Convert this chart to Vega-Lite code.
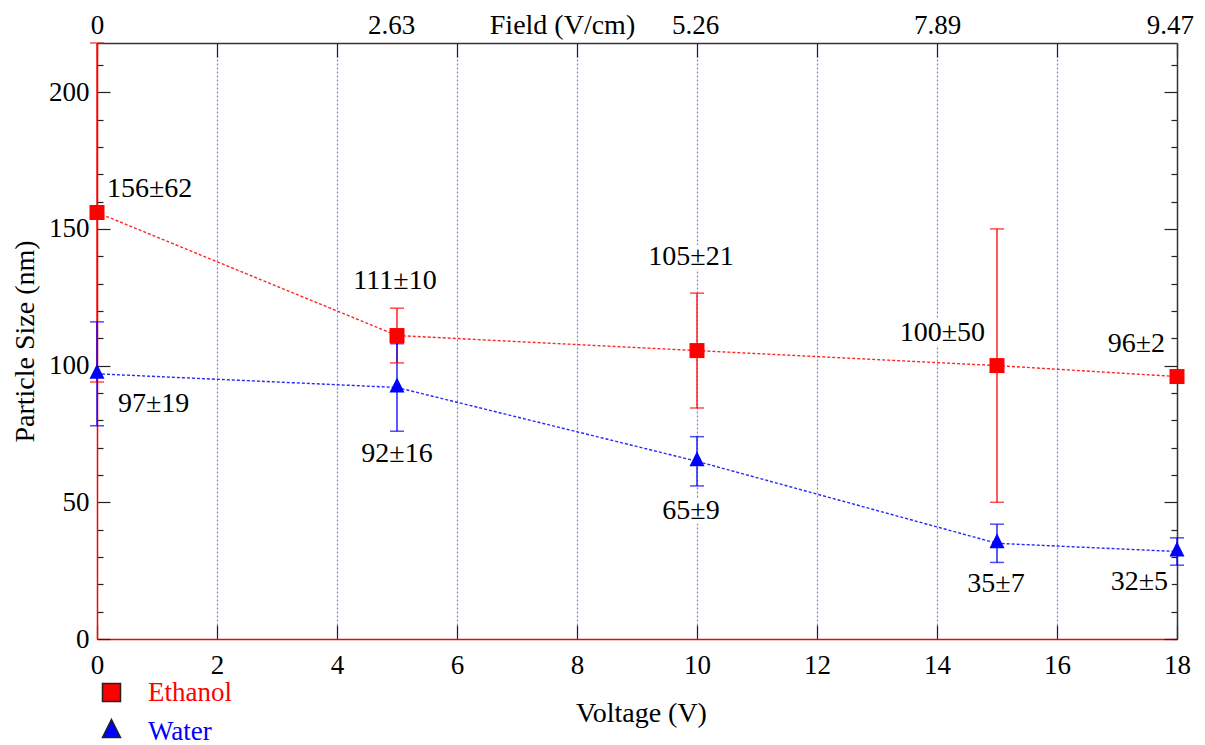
{
  "$schema": "https://vega.github.io/schema/vega-lite/v6.json",
  "width": 1080,
  "height": 596,
  "autosize": {"type": "none"},
  "padding": {"left": 97, "top": 43, "right": 28, "bottom": 106},
  "background": "white",
  "config": {
    "view": {"stroke": null},
    "font": "Liberation Serif",
    "text": {"font": "Liberation Serif"},
    "axis": {"labelFont": "Liberation Serif", "titleFont": "Liberation Serif", "labelColor": "#000", "titleColor": "#000", "titleFontWeight": "normal", "labelFlush": false, "labelOverlap": false, "grid": false, "tickColor": "#222", "tickWidth": 1.2},
    "legend": {"labelFont": "Liberation Serif"}
  },
  "data": {"values": [
    {"solvent": "Ethanol", "voltage": 0, "size": 156, "low": 94, "high": 218, "label": "156±62"},
    {"solvent": "Ethanol", "voltage": 5, "size": 111, "low": 101, "high": 121, "label": "111±10"},
    {"solvent": "Ethanol", "voltage": 10, "size": 105.5, "low": 84.5, "high": 126.5, "label": "105±21"},
    {"solvent": "Ethanol", "voltage": 15, "size": 100, "low": 50, "high": 150, "label": "100±50"},
    {"solvent": "Ethanol", "voltage": 18, "size": 96, "low": 94, "high": 98, "label": "96±2"},
    {"solvent": "Water", "voltage": 0, "size": 97, "low": 78, "high": 116, "label": "97±19"},
    {"solvent": "Water", "voltage": 5, "size": 92, "low": 76, "high": 108, "label": "92±16"},
    {"solvent": "Water", "voltage": 10, "size": 65, "low": 56, "high": 74, "label": "65±9"},
    {"solvent": "Water", "voltage": 15, "size": 35, "low": 28, "high": 42, "label": "35±7"},
    {"solvent": "Water", "voltage": 18, "size": 32, "low": 27, "high": 37, "label": "32±5"}
  ]},
  "encoding": {
    "x": {"field": "voltage", "type": "quantitative", "scale": {"domain": [0, 18], "nice": false, "zero": false}, "axis": null},
    "y": {"field": "size", "type": "quantitative", "scale": {"domain": [0, 218], "nice": false}, "axis": null}
  },
  "layer": [
    {
      "mark": {"type": "line", "strokeDash": [3, 2], "strokeWidth": 1.4, "opacity": 0.85},
      "encoding": {
        "x": {"field": "voltage", "type": "quantitative", "scale": {"domain": [0, 18], "nice": false, "zero": false},
              "axis": {"orient": "bottom", "values": [2, 4, 6, 8, 10, 12, 14, 16], "grid": true, "gridColor": "#7a7aff", "gridDash": [2, 2], "gridWidth": 1.2, "ticks": false, "labels": false, "domain": false, "title": null}},
        "y": {"field": "size", "type": "quantitative", "scale": {"domain": [0, 218], "nice": false},
              "axis": {"orient": "right", "values": [0, 10, 20, 30, 40, 60, 70, 80, 90, 110, 120, 130, 140, 160, 170, 180, 190, 210], "tickSize": -6, "labels": false, "domain": false, "title": null}},
        "color": {"field": "solvent", "type": "nominal", "scale": {"domain": ["Ethanol", "Water"], "range": ["#ff0000", "#0000ff"]}, "legend": null}
      }
    },
    {
      "mark": {"type": "rule", "strokeWidth": 1.3},
      "encoding": {
        "x": {"field": "voltage", "type": "quantitative", "scale": {"domain": [0, 18], "nice": false, "zero": false},
              "axis": {"orient": "bottom", "values": [0, 2, 4, 6, 8, 10, 12, 14, 16, 18], "tickSize": -14, "labels": false, "domain": false, "title": null}},
        "y": {"field": "low", "type": "quantitative", "scale": {"domain": [0, 218], "nice": false},
              "axis": {"orient": "left", "values": [0, 50, 100, 150, 200], "tickSize": -13, "labels": false, "domain": false, "title": null}},
        "y2": {"field": "high"},
        "color": {"field": "solvent", "type": "nominal", "scale": {"domain": ["Ethanol", "Water"], "range": ["#ff0000", "#0000ff"]}, "legend": null}
      }
    },
    {
      "mark": {"type": "tick", "orient": "horizontal", "size": 14, "thickness": 1.5},
      "encoding": {
        "x": {"field": "voltage", "type": "quantitative", "scale": {"domain": [0, 18], "nice": false, "zero": false},
              "axis": {"orient": "top", "values": [0, 2, 4, 6, 8, 10, 12, 14, 16, 18], "tickSize": -14, "labels": false, "domain": true, "domainColor": "#333", "domainWidth": 1.5, "title": null}},
        "y": {"field": "low", "type": "quantitative", "scale": {"domain": [0, 218], "nice": false},
              "axis": {"orient": "left", "values": [10, 20, 30, 40, 60, 70, 80, 90, 110, 120, 130, 140, 160, 170, 180, 190, 210], "tickSize": -6, "labels": false, "domain": false, "title": null}},
        "color": {"field": "solvent", "type": "nominal", "scale": {"domain": ["Ethanol", "Water"], "range": ["#ff0000", "#0000ff"]}, "legend": null}
      }
    },
    {
      "mark": {"type": "tick", "orient": "horizontal", "size": 14, "thickness": 1.5},
      "encoding": {
        "x": {"field": "voltage", "type": "quantitative", "scale": {"domain": [0, 18], "nice": false, "zero": false},
              "axis": {"orient": "top", "values": [0, 4.9, 9.97, 14, 17.88], "ticks": false, "domain": false, "labelFontSize": 27, "labelBaseline": "alphabetic", "labelPadding": 10,
                       "labelExpr": "datum.value < 1 ? '0' : datum.value < 6 ? '2.63' : datum.value < 11 ? '5.26' : datum.value < 15 ? '7.89' : '9.47'",
                       "title": "Field (V/cm)", "titleFontSize": 28, "titleX": 465, "titleY": -10, "titleBaseline": "alphabetic", "titleAlign": "center"}},
        "y": {"field": "high", "type": "quantitative", "scale": {"domain": [0, 218], "nice": false},
              "axis": {"orient": "right", "values": [0, 50, 100, 150, 200], "tickSize": -13, "labels": false, "domain": true, "domainColor": "#333", "domainWidth": 1.5, "title": null}},
        "color": {"field": "solvent", "type": "nominal", "scale": {"domain": ["Ethanol", "Water"], "range": ["#ff0000", "#0000ff"]}, "legend": null}
      }
    },
    {
      "mark": {"type": "point", "filled": true, "opacity": 1, "size": 225},
      "encoding": {
        "x": {"field": "voltage", "type": "quantitative", "scale": {"domain": [0, 18], "nice": false, "zero": false},
              "axis": {"orient": "bottom", "values": [0, 2, 4, 6, 8, 10, 12, 14, 16, 18], "format": "d", "ticks": false, "domainColor": "#ff0000", "domainWidth": 1.5, "labelFontSize": 27, "labelBaseline": "alphabetic", "labelPadding": 34,
                       "title": "Voltage (V)", "titleFontSize": 28, "titleX": 544, "titleY": 82, "titleBaseline": "alphabetic", "titleAlign": "center"}},
        "y": {"field": "size", "type": "quantitative", "scale": {"domain": [0, 218], "nice": false},
              "axis": {"orient": "left", "values": [0, 50, 100, 150, 200], "format": "d", "ticks": false, "domainColor": "#ff0000", "domainWidth": 1.5, "labelFontSize": 27, "labelPadding": 8, "labelBaseline": "middle",
                       "title": "Particle Size (nm)", "titleFontSize": 28, "titleAngle": -90, "titleX": -64, "titleY": 298, "titleBaseline": "alphabetic", "titleAlign": "center"}},
        "color": {"field": "solvent", "type": "nominal", "scale": {"domain": ["Ethanol", "Water"], "range": ["#ff0000", "#0000ff"]},
                  "legend": {"orient": "none", "legendX": 1, "legendY": 636, "title": null, "padding": 0, "labelFontSize": 27, "symbolSize": 324, "labelOffset": 23, "rowPadding": 10, "labelLimit": 0,
                             "symbolStrokeColor": "#222", "symbolStrokeWidth": 1.5,
                             "labelColor": {"expr": "datum.value === 'Ethanol' ? '#ff0000' : '#0000ff'"}}},
        "shape": {"field": "solvent", "type": "nominal", "scale": {"domain": ["Ethanol", "Water"], "range": ["square", "M0,-1.333L1,0.667L-1,0.667Z"]},
                  "legend": {"orient": "none", "legendX": 1, "legendY": 636, "title": null, "padding": 0, "labelFontSize": 27, "symbolSize": 324, "labelOffset": 23, "rowPadding": 10, "labelLimit": 0,
                             "symbolStrokeColor": "#222", "symbolStrokeWidth": 1.5,
                             "labelColor": {"expr": "datum.value === 'Ethanol' ? '#ff0000' : '#0000ff'"}}}
      }
    },
    {
      "transform": [{"filter": "datum.solvent === 'Ethanol' && datum.voltage === 0"}],
      "encoding": {"text": {"field": "label"}},
      "layer": [
        {"mark": {"type": "text", "fontSize": 28, "baseline": "middle", "align": "left", "dx": 10, "dy": -24, "fill": "#fff", "stroke": "#fff", "strokeWidth": 9, "strokeJoin": "round"}},
        {"mark": {"type": "text", "fontSize": 28, "baseline": "middle", "align": "left", "dx": 10, "dy": -24, "fill": "#000"}}
      ]
    },
    {
      "transform": [{"filter": "datum.solvent === 'Water' && datum.voltage === 0"}],
      "encoding": {"text": {"field": "label"}},
      "layer": [
        {"mark": {"type": "text", "fontSize": 28, "baseline": "middle", "align": "left", "dx": 21, "dy": 30, "fill": "#fff", "stroke": "#fff", "strokeWidth": 9, "strokeJoin": "round"}},
        {"mark": {"type": "text", "fontSize": 28, "baseline": "middle", "align": "left", "dx": 21, "dy": 30, "fill": "#000"}}
      ]
    },
    {
      "transform": [{"filter": "datum.solvent === 'Ethanol' && datum.voltage === 5"}],
      "encoding": {"text": {"field": "label"}},
      "layer": [
        {"mark": {"type": "text", "fontSize": 28, "baseline": "middle", "align": "center", "dx": -2, "dy": -55, "fill": "#fff", "stroke": "#fff", "strokeWidth": 9, "strokeJoin": "round"}},
        {"mark": {"type": "text", "fontSize": 28, "baseline": "middle", "align": "center", "dx": -2, "dy": -55, "fill": "#000"}}
      ]
    },
    {
      "transform": [{"filter": "datum.solvent === 'Ethanol' && datum.voltage === 10"}],
      "encoding": {"text": {"field": "label"}},
      "layer": [
        {"mark": {"type": "text", "fontSize": 28, "baseline": "middle", "align": "center", "dx": -6, "dy": -94, "fill": "#fff", "stroke": "#fff", "strokeWidth": 9, "strokeJoin": "round"}},
        {"mark": {"type": "text", "fontSize": 28, "baseline": "middle", "align": "center", "dx": -6, "dy": -94, "fill": "#000"}}
      ]
    },
    {
      "transform": [{"filter": "datum.solvent === 'Ethanol' && datum.voltage >= 15"}],
      "encoding": {"text": {"field": "label"}},
      "layer": [
        {"mark": {"type": "text", "fontSize": 28, "baseline": "middle", "align": "right", "dx": -12, "dy": -33, "fill": "#fff", "stroke": "#fff", "strokeWidth": 9, "strokeJoin": "round"}},
        {"mark": {"type": "text", "fontSize": 28, "baseline": "middle", "align": "right", "dx": -12, "dy": -33, "fill": "#000"}}
      ]
    },
    {
      "transform": [{"filter": "datum.solvent === 'Water' && datum.voltage === 5"}],
      "encoding": {"text": {"field": "label"}},
      "layer": [
        {"mark": {"type": "text", "fontSize": 28, "baseline": "middle", "align": "center", "dx": 0, "dy": 67, "fill": "#fff", "stroke": "#fff", "strokeWidth": 9, "strokeJoin": "round"}},
        {"mark": {"type": "text", "fontSize": 28, "baseline": "middle", "align": "center", "dx": 0, "dy": 67, "fill": "#000"}}
      ]
    },
    {
      "transform": [{"filter": "datum.solvent === 'Water' && datum.voltage === 10"}],
      "encoding": {"text": {"field": "label"}},
      "layer": [
        {"mark": {"type": "text", "fontSize": 28, "baseline": "middle", "align": "center", "dx": -6, "dy": 50, "fill": "#fff", "stroke": "#fff", "strokeWidth": 9, "strokeJoin": "round"}},
        {"mark": {"type": "text", "fontSize": 28, "baseline": "middle", "align": "center", "dx": -6, "dy": 50, "fill": "#000"}}
      ]
    },
    {
      "transform": [{"filter": "datum.solvent === 'Water' && datum.voltage === 15"}],
      "encoding": {"text": {"field": "label"}},
      "layer": [
        {"mark": {"type": "text", "fontSize": 28, "baseline": "middle", "align": "center", "dx": -1, "dy": 41, "fill": "#fff", "stroke": "#fff", "strokeWidth": 9, "strokeJoin": "round"}},
        {"mark": {"type": "text", "fontSize": 28, "baseline": "middle", "align": "center", "dx": -1, "dy": 41, "fill": "#000"}}
      ]
    },
    {
      "transform": [{"filter": "datum.solvent === 'Water' && datum.voltage === 18"}],
      "encoding": {"text": {"field": "label"}},
      "layer": [
        {"mark": {"type": "text", "fontSize": 28, "baseline": "middle", "align": "right", "dx": -9, "dy": 30, "fill": "#fff", "stroke": "#fff", "strokeWidth": 9, "strokeJoin": "round"}},
        {"mark": {"type": "text", "fontSize": 28, "baseline": "middle", "align": "right", "dx": -9, "dy": 30, "fill": "#000"}}
      ]
    }
  ],
  "resolve": {"scale": {"x": "shared", "y": "shared"}, "axis": {"x": "independent", "y": "independent"}, "legend": {"color": "independent", "shape": "independent"}}
}
